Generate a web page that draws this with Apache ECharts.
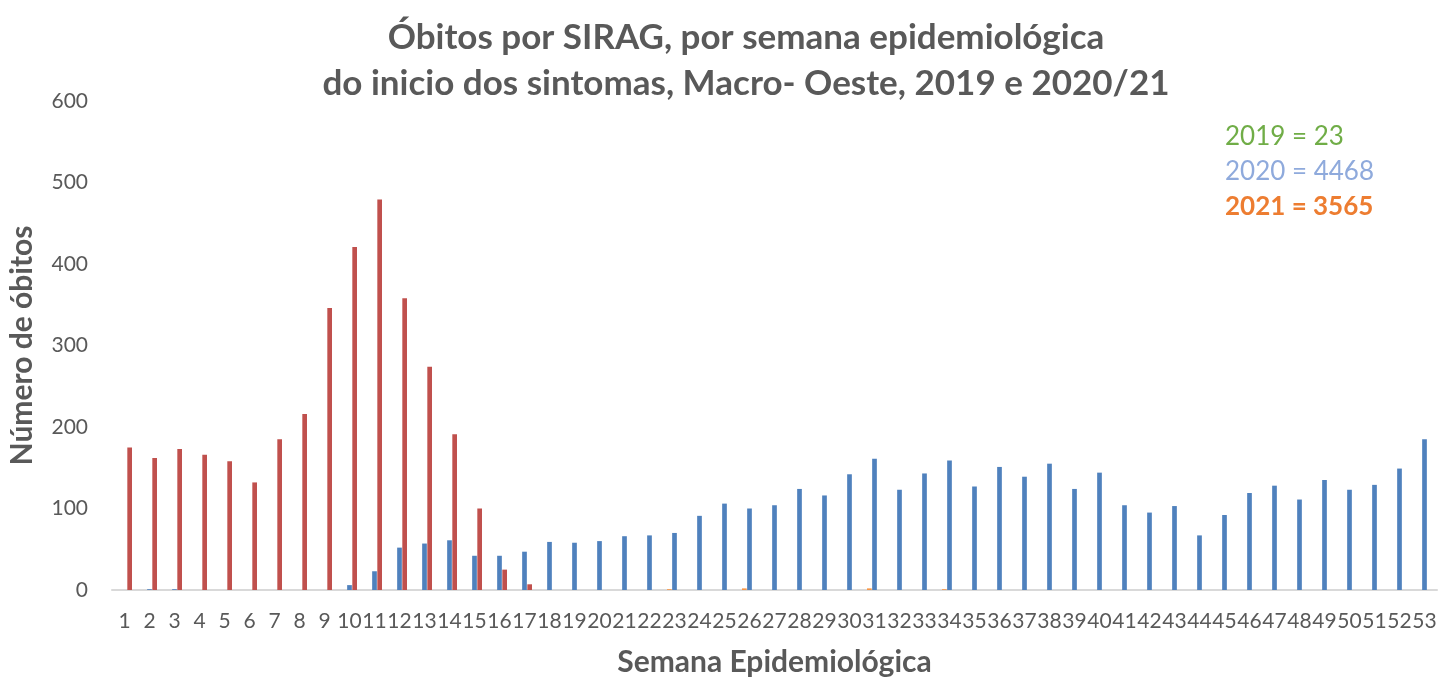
<!DOCTYPE html>
<html>
<head>
<meta charset="utf-8">
<script src="https://cdn.jsdelivr.net/npm/echarts@6/dist/echarts.min.js"></script>
<style>html,body{margin:0;padding:0;background:#fff;overflow:hidden}#c{width:1438px;height:677px}</style>
</head>
<body>
<div id="c"></div>
<script>
const weeks = Array.from({length: 53}, (_, i) => String(i + 1));
const yTicks = [0, 100, 200, 300, 400, 500, 600];
// 2019 (orange, tiny)
const s2019 = [0,0,0,0,0,0,0,0,0,0,0,0,0,0,0,0,0,0,0,0,0,0,1,0,0,2,0,0,0,0,2,0,0,1,0,0,0,0,0,0,0,0,0,0,0,0,0,0,0,0,0,0,0];
// 2020 (blue)
const s2020 = [0,1,1,0,0,0,0,0,0,6,23,52,57,61,42,42,47,59,58,60,66,67,70,91,106,100,104,124,116,142,161,123,143,159,127,151,139,155,124,144,104,95,103,67,92,119,128,111,135,123,129,149,185];
// 2021 (red)
const s2021 = [175,162,173,166,158,132,185,216,346,421,479,358,274,191,100,25,7,0,0,0,0,0,0,0,0,0,0,0,0,0,0,0,0,0,0,0,0,0,0,0,0,0,0,0,0,0,0,0,0,0,0,0,0];
const legendLines = ['2019 = 23', '2020 = 4468', '2021 = 3565'];

const FONT = 'Lato, "Open Sans", sans-serif';
const chart = echarts.init(document.getElementById('c'));
chart.setOption({
  animation: false,
  textStyle: {fontFamily: FONT},
  title: {
    text: 'Óbitos por SIRAG, por semana epidemiológica\ndo inicio dos sintomas, Macro- Oeste, 2019 e 2020/21',
    left: 741, textAlign: 'center', top: 10,
    textStyle: {fontFamily: FONT, fontSize: 35, fontWeight: 'bold', color: '#595959', lineHeight: 46}
  },
  grid: {left: 112, right: 1, top: 101, bottom: 87, containLabel: false, outerBoundsMode: 'none'},
  xAxis: {
    type: 'category', data: weeks,
    name: 'Semana Epidemiológica', nameLocation: 'middle', nameGap: 57, nameMoveOverlap: false,
    nameTextStyle: {fontFamily: FONT, fontSize: 30, fontWeight: 'bold', color: '#595959'},
    axisLine: {lineStyle: {color: '#d9d9d9', width: 2}},
    axisTick: {show: false},
    axisLabel: {interval: 0, margin: 21, fontSize: 21, color: '#595959', fontFamily: FONT}
  },
  yAxis: {
    type: 'value', min: yTicks[0], max: yTicks[yTicks.length - 1], interval: 100,
    name: 'Número de óbitos', nameLocation: 'middle', nameGap: 75, nameRotate: 90, nameMoveOverlap: false,
    nameTextStyle: {fontFamily: FONT, fontSize: 30, fontWeight: 'bold', color: '#595959'},
    axisLine: {show: false}, axisTick: {show: false},
    splitLine: {show: false},
    axisLabel: {margin: 24, fontSize: 21, color: '#595959', fontFamily: FONT}
  },
  series: [
    {name: '2019', type: 'bar', data: s2019, itemStyle: {color: '#F79646'}, barGap: '10%', barCategoryGap: '40%'},
    {name: '2020', type: 'bar', data: s2020, itemStyle: {color: '#4F81BD'}, barGap: '10%', barCategoryGap: '40%'},
    {name: '2021', type: 'bar', data: s2021, itemStyle: {color: '#C0504D'}, barGap: '10%', barCategoryGap: '40%'}
  ],
  graphic: [
    {type: 'text', left: 1225, top: 124, style: {text: legendLines[0], fill: '#70AD47', font: '26px ' + FONT}},
    {type: 'text', left: 1225, top: 159, style: {text: legendLines[1], fill: '#8FAADC', font: '26px ' + FONT}},
    {type: 'text', left: 1225, top: 194, style: {text: legendLines[2], fill: '#ED7D31', font: 'bold 26px ' + FONT}}
  ]
});
</script>
</body>
</html>
